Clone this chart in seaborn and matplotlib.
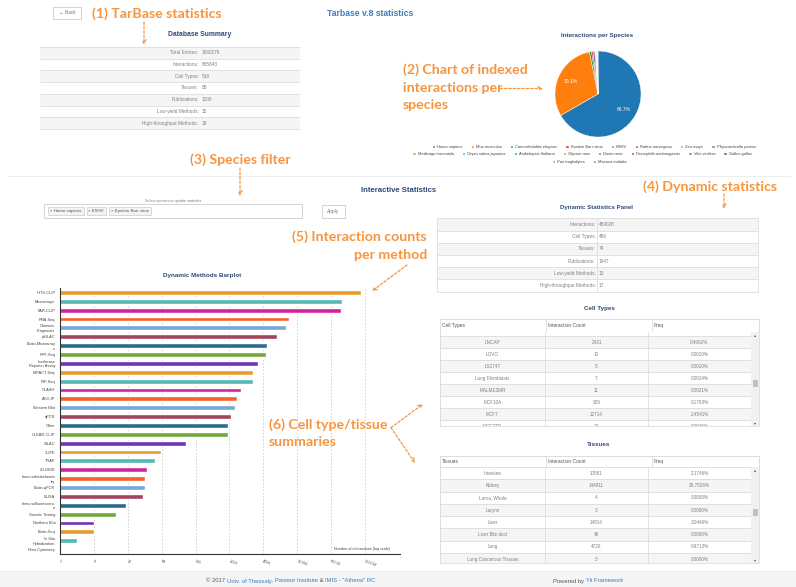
import matplotlib
matplotlib.use("Agg")
import matplotlib.pyplot as plt
from matplotlib.patches import Rectangle, Patch
from matplotlib.ticker import NullLocator
import seaborn as sns

# ---- data ----
db_labels = ["Total Entries", "Interactions", "Cell Types", "Tissues", "Publications",
             "Low-yield Methods", "High-throughput Methods"]
db_values = [1080276, 665843, 516, 85, 1208, 15, 19]

species = ["Homo sapiens", "Mus musculus", "Caenorhabditis elegans", "Epstein Barr virus", "KSHV",
           "Rattus norvegicus", "Zea mays", "Physcomitrella patens", "Medicago truncatula",
           "Oryza sativa japonica", "Arabidopsis thaliana", "Glycine max", "Danio rerio",
           "Drosophila melanogaster", "Vitis vinifera", "Gallus gallus", "Pan troglodytes",
           "Macaca mulatta"]
species_share = [66.7, 30.1, 0.8, 0.5, 0.7, 0.3, 0.1, 0.05, 0.05, 0.05, 0.1, 0.05, 0.1,
                 0.2, 0.05, 0.05, 0.05, 0.05]

selected_species = ["Homo sapiens", "KSHV", "Epstein Barr virus"]

dyn_labels = ["Interactions", "Cell Types", "Tissues", "Publications", "Low-yield Methods",
              "High-throughput Methods"]
dyn_values = [459028, 456, 74, 1047, 13, 17]

methods = ["HITS-CLIP", "Microarrays", "PAR-CLIP", "RNA-Seq", "Chimeric\nFragments", "pSILAC",
           "Biotin-Microarray\ns", "RPF-Seq", "Luciferase\nReporter Assay", "IMPACT-Seq", "RIP-Seq",
           "CLASH", "AGO-IP", "Western Blot", "qPCR", "Other", "CLEAR-CLIP", "SILAC", "3LIFE",
           "TRAP", "2D-DIGE", "Immunohistochemis\ntry", "Biotin-qPCR", "ELISA",
           "Immunofluorescenc\ne", "Genetic Testing", "Northern Blot", "Biotin-Seq",
           "In Situ\nHybridization", "Flow Cytometry"]
method_counts = [222000, 102000, 96600, 11600, 10500, 7100, 4800, 4550, 3240, 2640, 2640,
                 1660, 1410, 1260, 1075, 975, 950, 173, 62, 49, 35, 32, 32, 30, 15, 10, 4, 4,
                 2, 1]
x_ticks = [1, 4, 16, 64, 256, 1024, 4096, 16384, 65536, 262144]

cell_types = ["LIM1215", "LNCAP", "LOVO", "LS174T", "Lung Fibroblasts", "MALME3MR", "MCF10A",
              "MCF7", "MCF7TD"]
cell_counts = [4, 2431, 10, 5, 7, 11, 929, 12714, 24]
cell_freq = [0.0008, 0.4692, 0.0019, 0.0010, 0.0014, 0.0021, 0.1793, 2.4541, 0.0046]

tissues = ["Intestine", "Kidney", "Larva, Whole", "Larynx", "Liver", "Liver Bile duct", "Lung",
           "Lung Cancerous Tissues"]
tissue_counts = [10581, 144911, 4, 3, 14814, 46, 4726, 3]
tissue_freq = [2.1746, 29.7826, 0.0008, 0.0006, 3.0446, 0.0095, 0.9713, 0.0006]

# ---- styling ----
sns.set_style("white")
plt.rcParams["font.family"] = ["Liberation Sans", "DejaVu Sans"]

W, H = 796, 587
ORANGE = "#f7953e"
NAVY = "#2e4b77"
GREY = "#666666"
bar_cycle = ["#e89c28", "#52b9b3", "#d1249c", "#f7622a", "#74a9d8", "#a3435f", "#2a6a94",
             "#72a83a", "#7034b6"]

fig = plt.figure(figsize=(W / 100, H / 100), dpi=100)
bg = fig.add_axes([0, 0, 1, 1])
bg.set_xlim(0, W)
bg.set_ylim(H, 0)
bg.axis("off")


def txt(x, y, s, size, color=GREY, ha="left", weight="normal", family=None, va="center", **kw):
    return bg.text(x, y, s, fontsize=size, color=color, ha=ha, va=va,
                   fontweight=weight, family=family, **kw)


def note(x, y, s, ha="left"):
    return txt(x, y, s, 10.2, color=ORANGE, ha=ha, weight="bold", family="Lato",
               linespacing=1.55)


def arrow(x0, y0, x1, y1):
    bg.annotate("", xy=(x1, y1), xytext=(x0, y0),
                arrowprops=dict(arrowstyle="->", color=ORANGE, lw=0.9,
                                linestyle=(0, (2, 1.5)), mutation_scale=7,
                                shrinkA=0, shrinkB=0))


def kv_table(labels, values, x0, x1, xdiv, y0, rowh, bordered):
    for i, (lab, val) in enumerate(zip(labels, values)):
        top = y0 + i * rowh
        fc = "#f5f5f5" if i % 2 == 0 else "white"
        bg.add_patch(Rectangle((x0, top), x1 - x0, rowh, fc=fc, lw=0))
        bg.plot([x0, x1], [top, top], color="#dddddd", lw=0.6)
        txt(xdiv - 1.5, top + rowh / 2, lab + ":", 3.4, ha="right", color="#808080")
        txt(xdiv + 1.5, top + rowh / 2, str(val), 3.4, color="#808080")
    bottom = y0 + len(labels) * rowh
    bg.plot([x0, x1], [bottom, bottom], color="#dddddd", lw=0.6)
    if bordered:
        for xv in (x0, xdiv, x1):
            bg.plot([xv, xv], [y0, bottom], color="#dddddd", lw=0.6)


def grid_table(head, names, counts, freqs, y_head, head_h, first_center, rowh, y_bottom,
               thumb_y):
    hx = [440, 546, 652, 759]
    bx = [440, 545, 648, 751]
    head_bottom = y_head + head_h
    bg.add_patch(Rectangle((hx[0], y_head), hx[3] - hx[0], head_h, fc="white",
                           ec="#dddddd", lw=0.6))
    for xv, h in zip(hx[:3], head):
        bg.plot([xv, xv], [y_head, head_bottom], color="#dddddd", lw=0.6)
        txt(xv + 2, y_head + head_h / 2, h, 3.5, color="#555555")
    clip = Rectangle((hx[0], head_bottom), hx[3] - hx[0], y_bottom - head_bottom,
                     transform=bg.transData)
    for i, (n, c, f) in enumerate(zip(names, counts, freqs)):
        cy = first_center + i * rowh
        fc = "#f5f5f5" if i % 2 == 1 else "white"
        r = Rectangle((bx[0], cy - rowh / 2), bx[3] - bx[0], rowh, fc=fc, ec="#dddddd", lw=0.6)
        bg.add_patch(r)
        r.set_clip_path(clip)
        for xc, s in zip([(bx[0] + bx[1]) / 2, (bx[1] + bx[2]) / 2, (bx[2] + bx[3]) / 2],
                         [n, str(c), f"{f:.4f}%"]):
            t = txt(xc, cy, s, 3.3, ha="center", color="#808080", clip_on=True)
            t.set_clip_path(clip)
        for xv in bx[1:3]:
            ln, = bg.plot([xv, xv], [cy - rowh / 2, cy + rowh / 2], color="#dddddd", lw=0.6)
            ln.set_clip_path(clip)
    # scrollbar
    bg.add_patch(Rectangle((bx[3], head_bottom), hx[3] - bx[3], y_bottom - head_bottom,
                           fc="#f1f1f1", lw=0))
    bg.add_patch(Rectangle((bx[3] + 1.5, thumb_y), hx[3] - bx[3] - 3, 7, fc="#c1c1c1", lw=0))
    txt((bx[3] + hx[3]) / 2, head_bottom + 3, "▴", 3, ha="center", color="#555555")
    txt((bx[3] + hx[3]) / 2, y_bottom - 3, "▾", 3, ha="center", color="#555555")
    bg.plot([hx[0], hx[3], hx[3], hx[0], hx[0]],
            [y_head, y_head, y_bottom, y_bottom, y_head], color="#dddddd", lw=0.6)


# ---- header area ----
bg.add_patch(Rectangle((53, 7), 28, 12, fc="white", ec="#cccccc", lw=0.6))
txt(67, 13, "← Back", 3.4, ha="center", color="#777777")
note(92, 14, "(1) TarBase statistics")
arrow(144, 22, 144, 45)
txt(370, 14, "Tarbase v.8 statistics", 6.2, color="#3a7dbf", ha="center", weight="bold")

txt(200, 35, "Database Summary", 4.9, color=NAVY, ha="center", weight="bold")
kv_table(db_labels, db_values, 40, 300, 200, 47, 11.7, False)

# ---- pie chart ----
tab10 = sns.color_palette("tab10")
sp_colors = [tab10[i % 10] for i in range(len(species))]
txt(597, 36, "Interactions per Species", 4.5, color=NAVY, ha="center", weight="bold")
pax = fig.add_axes([(598 - 43) / W, 1 - (94 + 43) / H, 86 / W, 86 / H])
pax.pie(species_share, colors=sp_colors, startangle=90, counterclock=False,
        autopct=lambda p: f"{p:.1f}%" if p > 5 else "", pctdistance=0.7,
        wedgeprops=dict(edgecolor="white", linewidth=0.3),
        textprops=dict(color="white", fontsize=3.6))
pax.set_xlim(-1, 1)
pax.set_ylim(-1, 1)

handles = [Patch(facecolor=c, label=s) for s, c in zip(species, sp_colors)]
for (a, b), cx, cy in zip([(0, 8), (8, 16), (16, 18)], [594, 582, 589], [146.7, 154.2, 161.7]):
    fig.legend(handles=handles[a:b], ncol=b - a, loc="center",
               bbox_to_anchor=(cx / W, 1 - cy / H), fontsize=2.9, frameon=False,
               handlelength=0.8, handleheight=0.8, handletextpad=0.5, columnspacing=2.0,
               borderpad=0, labelcolor="#444444")

note(403, 87.5, "(2) Chart of indexed\ninteractions per\nspecies")
arrow(500, 88.5, 543, 88.5)

# ---- species filter ----
bg.plot([7, 790], [175.5, 175.5], color="#eeeeee", lw=0.8)
note(190, 160, "(3) Species filter")
arrow(240, 168, 240, 196)
txt(399, 190.5, "Interactive Statistics", 5.6, color=NAVY, ha="center", weight="bold")
txt(173, 201, "Select species to update statistics", 2.7, ha="center", color="#777777")
bg.add_patch(Rectangle((44, 204), 258, 13.5, fc="white", ec="#cccccc", lw=0.6))
r = fig.canvas.get_renderer()
tx = 48
for s in selected_species:
    t = txt(tx + 2, 211, "× " + s, 3.2, color="#555555")
    w = t.get_window_extent(r).width
    bg.add_patch(Rectangle((tx, 207), w + 4, 8, fc="#f4f4f4", ec="#cccccc", lw=0.5))
    tx += w + 7
bg.add_patch(Rectangle((322, 205), 23, 13, fc="white", ec="#cccccc", lw=0.6))
txt(333.5, 211.5, "Apply", 3.4, ha="center", color="#777777")

# ---- dynamic statistics ----
note(643, 186.5, "(4) Dynamic statistics")
arrow(724, 194, 724, 209)
txt(597, 207.7, "Dynamic Statistics Panel", 4.4, color=NAVY, ha="center", weight="bold")
kv_table(dyn_labels, dyn_values, 437, 758, 597, 218.3, 12.23, True)

# ---- barplot ----
note(427, 245.5, "(5) Interaction counts\nper method", ha="right")
arrow(407, 265, 372, 291)
txt(202, 276, "Dynamic Methods Barplot", 4.6, color=NAVY, ha="center", weight="bold")

bar_colors = [bar_cycle[i % len(bar_cycle)] for i in range(len(methods))]
bax = fig.add_axes([60 / W, 1 - 554 / H, 340 / W, 266 / H])
sns.barplot(x=method_counts, y=methods, hue=methods, palette=bar_colors, orient="h",
            width=0.55, saturation=1, legend=False, ax=bax)
bax.set_xscale("log", base=4)
bax.set_xlim(1, 4 ** 10.03)
bax.set_xticks(x_ticks)
bax.set_xticklabels([str(t) for t in x_ticks], rotation=-20, ha="left",
                    rotation_mode="anchor", fontsize=2.8, color="#555555")
bax.xaxis.set_minor_locator(NullLocator())
bax.grid(axis="x", linestyle=(0, (2, 2)), color="#cccccc", lw=0.6)
bax.set_axisbelow(True)
for side in ("top", "right"):
    bax.spines[side].set_visible(False)
for side in ("left", "bottom"):
    bax.spines[side].set_color("#333333")
    bax.spines[side].set_linewidth(0.8)
bax.tick_params(axis="y", labelsize=2.8, labelcolor="#444444", length=2, width=0.5, pad=1.5)
bax.tick_params(axis="x", length=2, width=0.5, pad=1.5)
bax.set_xlabel("")
bax.set_ylabel("")
bax.patch.set_alpha(0)
bax.text(0.97, 0.012, "Number of interactions (log scale)", transform=bax.transAxes,
         ha="right", va="bottom", fontsize=2.7, color="#444444")

# ---- cell types / tissues ----
note(269, 433, "(6) Cell type/tissue\nsummaries")
arrow(391, 427.7, 423, 404)
arrow(391, 427.7, 415, 463)

txt(599.5, 308.7, "Cell Types", 4.5, color=NAVY, ha="center", weight="bold")
grid_table(["Cell Types", "Interaction Count", "Freq"], cell_types, cell_counts, cell_freq,
           319.3, 12.4, 330.3, 12.0, 426, 380)

txt(599, 445, "Tissues", 4.5, color=NAVY, ha="center", weight="bold")
grid_table(["Tissues", "Interaction Count", "Freq"], tissues, tissue_counts, tissue_freq,
           455.7, 11.6, 473.3, 12.25, 563.3, 509)

# ---- footer ----
bg.add_patch(Rectangle((0, 571), W, 16, fc="#f5f5f5", lw=0))
bg.plot([0, W], [571, 571], color="#e7e7e7", lw=0.6)


def rich_text(xc, y, parts, size):
    items = [txt(0, y, s, size, color=c, va="baseline") for s, c in parts]
    widths = [t.get_window_extent(r).width for t in items]
    x = xc - sum(widths) / 2
    for t, w in zip(items, widths):
        t.set_x(x)
        x += w


LINK = "#3a7dbf"
rich_text(291, 582.5, [("© 2017 ", "#555555"), ("Univ. of Thessaly", LINK), (", ", "#555555"),
                       ("Pasteur Institute", LINK), (" & ", "#555555"),
                       ("IMIS - \"Athena\" RC", LINK)], 4.2)
rich_text(588, 582.5, [("Powered by ", "#555555"), ("Yii Framework", LINK)], 4.2)

fig.savefig("out.png", dpi=100)
